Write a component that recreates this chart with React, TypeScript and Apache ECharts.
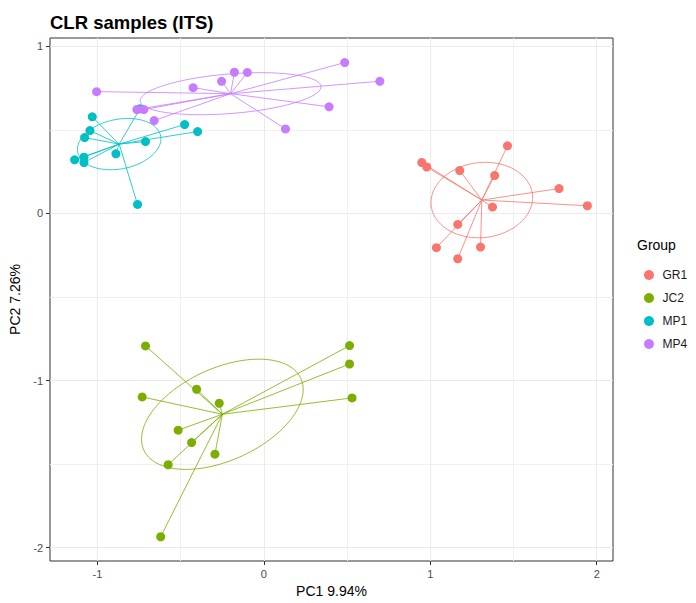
import React, { useEffect, useRef } from 'react';
import * as echarts from 'echarts';

const groupNames = ['GR1', 'JC2', 'MP1', 'MP4'];
const groupColors = ['#F8766D', '#7CAE00', '#00BFC4', '#C77CFF'];

const gr1X = [0.949, 0.979, 1.177, 1.387, 1.464, 1.774, 1.944, 1.374, 1.165, 1.037, 1.165, 1.302];
const gr1Y = [0.305, 0.278, 0.257, 0.227, 0.405, 0.149, 0.046, 0.038, -0.066, -0.205, -0.271, -0.201];

const jc2X = [-0.711, -0.404, -0.268, -0.731, -0.515, -0.434, -0.294, -0.575, -0.62, 0.515, 0.515, 0.53];
const jc2Y = [-0.793, -1.052, -1.136, -1.098, -1.297, -1.371, -1.441, -1.504, -1.935, -0.791, -0.901, -1.104];

const mp1X = [-1.031, -1.045, -1.077, -1.137, -1.081, -1.081, -0.889, -0.711, -0.476, -0.398, -0.759, -0.745];
const mp1Y = [0.578, 0.496, 0.454, 0.321, 0.337, 0.305, 0.357, 0.43, 0.532, 0.49, 0.054, 0.626];

const mp4X = [-1.005, -0.763, -0.721, -0.659, -0.425, -0.254, -0.177, -0.099, 0.486, 0.697, 0.392, 0.13];
const mp4Y = [0.729, 0.622, 0.622, 0.556, 0.753, 0.791, 0.845, 0.844, 0.903, 0.791, 0.638, 0.506];

const groupXs = [gr1X, jc2X, mp1X, mp4X];
const groupYs = [gr1Y, jc2Y, mp1Y, mp4Y];

const xTicks = [-1, 0, 1, 2];
const yTicks = [-2, -1, 0, 1];
const xMinorTicks = [-0.5, 0.5, 1.5];
const yMinorTicks = [-1.5, -0.5, 0.5];

const FONT = '"Liberation Sans", Arial, sans-serif';

function mean(a: number[]) {
  return a.reduce((s, v) => s + v, 0) / a.length;
}

// 1-SD covariance ellipse of the group's points (as ordiellipse kind = "sd")
function sdEllipse(xs: number[], ys: number[]) {
  const cx = mean(xs);
  const cy = mean(ys);
  const n = xs.length;
  let sxx = 0, syy = 0, sxy = 0;
  for (let i = 0; i < n; i++) {
    sxx += (xs[i] - cx) ** 2;
    syy += (ys[i] - cy) ** 2;
    sxy += (xs[i] - cx) * (ys[i] - cy);
  }
  sxx /= n - 1; syy /= n - 1; sxy /= n - 1;
  const l11 = Math.sqrt(sxx);
  const l21 = sxy / l11;
  const l22 = Math.sqrt(Math.max(syy - l21 * l21, 0));
  const pts: number[][] = [];
  const steps = 120;
  for (let k = 0; k <= steps; k++) {
    const t = (2 * Math.PI * k) / steps;
    const u = Math.cos(t), v = Math.sin(t);
    pts.push([cx + l11 * u, cy + l21 * u + l22 * v]);
  }
  return pts;
}

export default function App() {
  const ref = useRef<HTMLDivElement>(null);

  useEffect(() => {
    if (!ref.current) return;
    const chart = echarts.init(ref.current, undefined, { renderer: 'svg' });

    const series: any[] = [];
    groupNames.forEach((name, gi) => {
      const xs = groupXs[gi];
      const ys = groupYs[gi];
      const c = [mean(xs), mean(ys)];
      series.push({
        name: name + ' spider',
        type: 'lines',
        coordinateSystem: 'cartesian2d',
        xAxisIndex: 0,
        yAxisIndex: 0,
        silent: true,
        lineStyle: { color: groupColors[gi], width: 1, opacity: 0.8, curveness: 0 },
        data: xs.map((x, i) => ({ coords: [c, [x, ys[i]]] })),
        z: 2,
      });
      series.push({
        name: name + ' ellipse',
        type: 'line',
        xAxisIndex: 0,
        yAxisIndex: 0,
        silent: true,
        symbol: 'none',
        showSymbol: false,
        lineStyle: { color: groupColors[gi], width: 1, opacity: 0.8 },
        data: sdEllipse(xs, ys),
        z: 2,
      });
    });
    groupNames.forEach((name, gi) => {
      const xs = groupXs[gi];
      const ys = groupYs[gi];
      series.push({
        name,
        type: 'scatter',
        xAxisIndex: 0,
        yAxisIndex: 0,
        symbol: 'circle',
        symbolSize: 9,
        itemStyle: { color: groupColors[gi], opacity: 1 },
        data: xs.map((x, i) => [x, ys[i]]),
        z: 3,
      });
    });

    const xMin = -1.285, xMax = 2.098, yMin = -2.08, yMax = 1.05;

    chart.setOption({
      animation: false,
      backgroundColor: '#ffffff',
      textStyle: { fontFamily: FONT },
      title: {
        text: 'CLR samples (ITS)',
        left: 50,
        top: 13,
        padding: 0,
        textStyle: { fontSize: 18.5, fontWeight: 'bold', color: '#000000', fontFamily: FONT },
      },
      legend: {
        data: groupNames,
        orient: 'vertical',
        left: 644,
        top: 269,
        itemWidth: 17,
        itemHeight: 10,
        itemGap: 11,
        icon: 'circle',
        selectedMode: false,
        padding: 0,
        textStyle: { fontSize: 12, color: '#1a1a1a', fontFamily: FONT },
      },
      graphic: [
        {
          type: 'text',
          left: 637,
          top: 238,
          style: { text: 'Group', fontSize: 14, fill: '#000000', fontFamily: FONT },
        },
      ],
      grid: {
        left: 50,
        right: 83,
        top: 38,
        bottom: 42,
        show: true,
        borderColor: '#333333',
        borderWidth: 1,
        backgroundColor: 'transparent',
      },
      xAxis: [
        {
          type: 'value',
          min: xMin,
          max: xMax,
          position: 'bottom',
          name: 'PC1 9.94%',
          nameLocation: 'middle',
          nameGap: 22,
          nameTextStyle: { fontSize: 14, color: '#000000', fontFamily: FONT },
          axisLine: { show: false, onZero: false },
          axisTick: { show: true, length: 4, customValues: xTicks, lineStyle: { color: '#333333' } },
          axisLabel: { customValues: xTicks, fontSize: 11, color: '#4D4D4D', margin: 7, fontFamily: FONT },
          splitLine: { show: true, lineStyle: { color: '#EBEBEB', width: 1 } },
        },
        {
          type: 'value',
          min: xMin,
          max: xMax,
          position: 'top',
          axisLine: { show: false, onZero: false },
          axisTick: { show: false, customValues: xMinorTicks },
          axisLabel: { show: false, customValues: xMinorTicks },
          splitLine: { show: true, lineStyle: { color: '#F0F0F0', width: 1 } },
        },
      ],
      yAxis: [
        {
          type: 'value',
          min: yMin,
          max: yMax,
          position: 'left',
          name: 'PC2 7.26%',
          nameLocation: 'middle',
          nameRotate: 90,
          nameGap: 20,
          nameTextStyle: { fontSize: 14, color: '#000000', fontFamily: FONT },
          axisLine: { show: false, onZero: false },
          axisTick: { show: true, length: 4, customValues: yTicks, lineStyle: { color: '#333333' } },
          axisLabel: { customValues: yTicks, fontSize: 11, color: '#4D4D4D', margin: 7, fontFamily: FONT },
          splitLine: { show: true, lineStyle: { color: '#EBEBEB', width: 1 } },
        },
        {
          type: 'value',
          min: yMin,
          max: yMax,
          position: 'right',
          axisLine: { show: false, onZero: false },
          axisTick: { show: false, customValues: yMinorTicks },
          axisLabel: { show: false, customValues: yMinorTicks },
          splitLine: { show: true, lineStyle: { color: '#F0F0F0', width: 1 } },
        },
      ],
      series,
    });

    return () => {
      chart.dispose();
    };
  }, []);

  return (
    <div
      ref={ref}
      style={{ position: 'fixed', left: 0, top: 0, width: 696, height: 603, background: '#fff' }}
    />
  );
}
